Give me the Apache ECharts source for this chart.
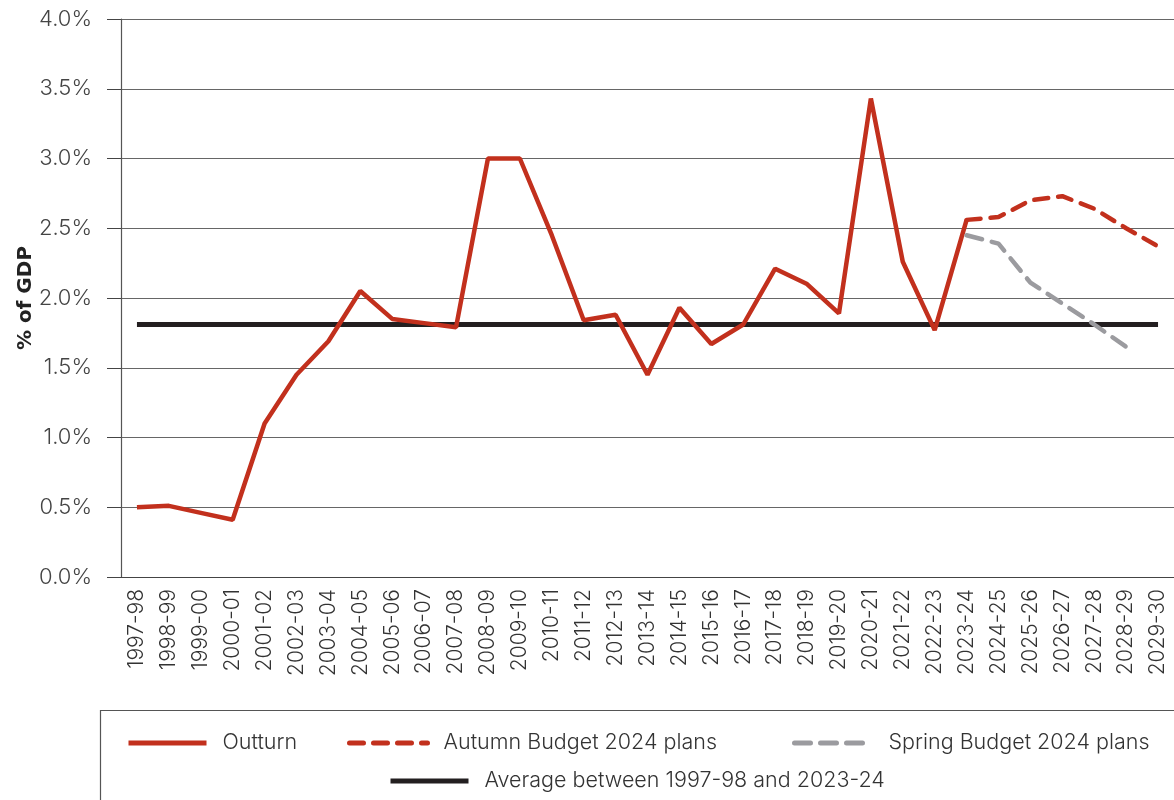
<!DOCTYPE html>
<html>
<head>
<meta charset="utf-8">
<script src="https://cdn.jsdelivr.net/npm/echarts@6/dist/echarts.min.js"></script>
<style>
  html, body { margin: 0; padding: 0; background: #fff; }
  #chart { width: 1174px; height: 800px; }
</style>
</head>
<body>
<div id="chart"></div>
<script>
const years = ['1997-98', '1998-99', '1999-00', '2000-01', '2001-02', '2002-03', '2003-04',
  '2004-05', '2005-06', '2006-07', '2007-08', '2008-09', '2009-10', '2010-11', '2011-12',
  '2012-13', '2013-14', '2014-15', '2015-16', '2016-17', '2017-18', '2018-19', '2019-20',
  '2020-21', '2021-22', '2022-23', '2023-24', '2024-25', '2025-26', '2026-27', '2027-28',
  '2028-29', '2029-30']

// % of GDP
const outturn = [0.50, 0.51, 0.46, 0.41, 1.10, 1.45, 1.69, 2.05, 1.85, 1.82, 1.79, 3.00, 3.00,
  2.45, 1.84, 1.88, 1.45, 1.93, 1.67, 1.81, 2.21, 2.10, 1.89, 3.43, 2.26, 1.77, 2.56,
  null, null, null, null, null, null]
const autumnPlans = [null, null, null, null, null, null, null, null, null, null, null, null, null,
  null, null, null, null, null, null, null, null, null, null, null, null, null, 2.56,
  2.58, 2.70, 2.73, 2.64, 2.50, 2.37]
const springPlans = [null, null, null, null, null, null, null, null, null, null, null, null, null,
  null, null, null, null, null, null, null, null, null, null, null, null, null, 2.45,
  2.39, 2.11, 1.96, 1.81, 1.65, null]
const average = [1.81, 1.81, 1.81, 1.81, 1.81, 1.81, 1.81, 1.81, 1.81, 1.81, 1.81, 1.81, 1.81,
  1.81, 1.81, 1.81, 1.81, 1.81, 1.81, 1.81, 1.81, 1.81, 1.81, 1.81, 1.81, 1.81, 1.81,
  1.81, 1.81, 1.81, 1.81, 1.81, 1.81]

const RED = '#c2301d'
const GREY = '#9b9b9f'
const BLACK = '#231f20'
const FONT = 'Inter'

const chart = echarts.init(document.getElementById('chart'))

function legendAt(name, left, top) {
  return {
    data: [name],
    left: left,
    top: top,
    padding: 0,
    itemWidth: 78,
    itemHeight: 16,
    selectedMode: false,
    itemStyle: { opacity: 0 },
    lineStyle: { width: 5 },
    textStyle: { fontFamily: FONT, fontWeight: 300, fontSize: 21.5, color: '#333', padding: [0, 0, 0, 11] }
  }
}

chart.setOption({
  animation: false,
  grid: { left: 121, top: 19, width: 1061, height: 558 },
  legend: [
    legendAt('Outturn', 126, 732),
    legendAt('Autumn Budget 2024 plans', 347, 732),
    legendAt('Spring Budget 2024 plans', 792, 732),
    legendAt('Average between 1997-98 and 2023-24', 388, 770)
  ],
  graphic: [{
    type: 'rect',
    shape: { x: 100.5, y: 710.5, width: 1100, height: 120 },
    style: { fill: 'none', stroke: '#555', lineWidth: 1.2 },
    silent: true
  }],
  xAxis: {
    type: 'category',
    data: years,
    axisLine: { lineStyle: { color: '#444', width: 1.2 } },
    axisTick: { show: false },
    axisLabel: { rotate: 90, margin: 12, interval: 0, fontFamily: FONT, fontWeight: 300, fontSize: 21, color: '#333' }
  },
  yAxis: {
    type: 'value',
    min: 0,
    max: 4,
    interval: 0.5,
    name: '% of GDP',
    nameLocation: 'middle',
    nameGap: 85,
    nameMoveOverlap: false,
    nameTextStyle: { fontFamily: 'DejaVu Sans', fontWeight: 'bold', fontSize: 20, color: '#222' },
    axisLine: { show: true, lineStyle: { color: '#555', width: 1.2 } },
    axisTick: { show: true, length: 14, lineStyle: { color: '#444' } },
    axisLabel: {
      margin: 29, fontFamily: FONT, fontWeight: 300, fontSize: 22, color: '#444',
      formatter: v => v.toFixed(1) + '%'
    },
    splitLine: { lineStyle: { color: '#666', width: 1.2 } }
  },
  series: [
    {
      name: 'Average between 1997-98 and 2023-24',
      type: 'line',
      data: average,
      symbol: 'none',
      lineStyle: { color: BLACK, width: 5 },
      itemStyle: { color: BLACK }
    },
    {
      name: 'Outturn',
      type: 'line',
      data: outturn,
      symbol: 'none',
      lineStyle: { color: RED, width: 4.5 },
      itemStyle: { color: RED }
    },
    {
      name: 'Autumn Budget 2024 plans',
      type: 'line',
      data: autumnPlans,
      symbol: 'none',
      lineStyle: { color: RED, width: 4.5, type: [14, 10], cap: 'round' },
      itemStyle: { color: RED }
    },
    {
      name: 'Spring Budget 2024 plans',
      type: 'line',
      data: springPlans,
      symbol: 'none',
      lineStyle: { color: GREY, width: 4.5, type: [16, 10], cap: 'round' },
      itemStyle: { color: GREY }
    }
  ]
})
</script>
</body>
</html>
